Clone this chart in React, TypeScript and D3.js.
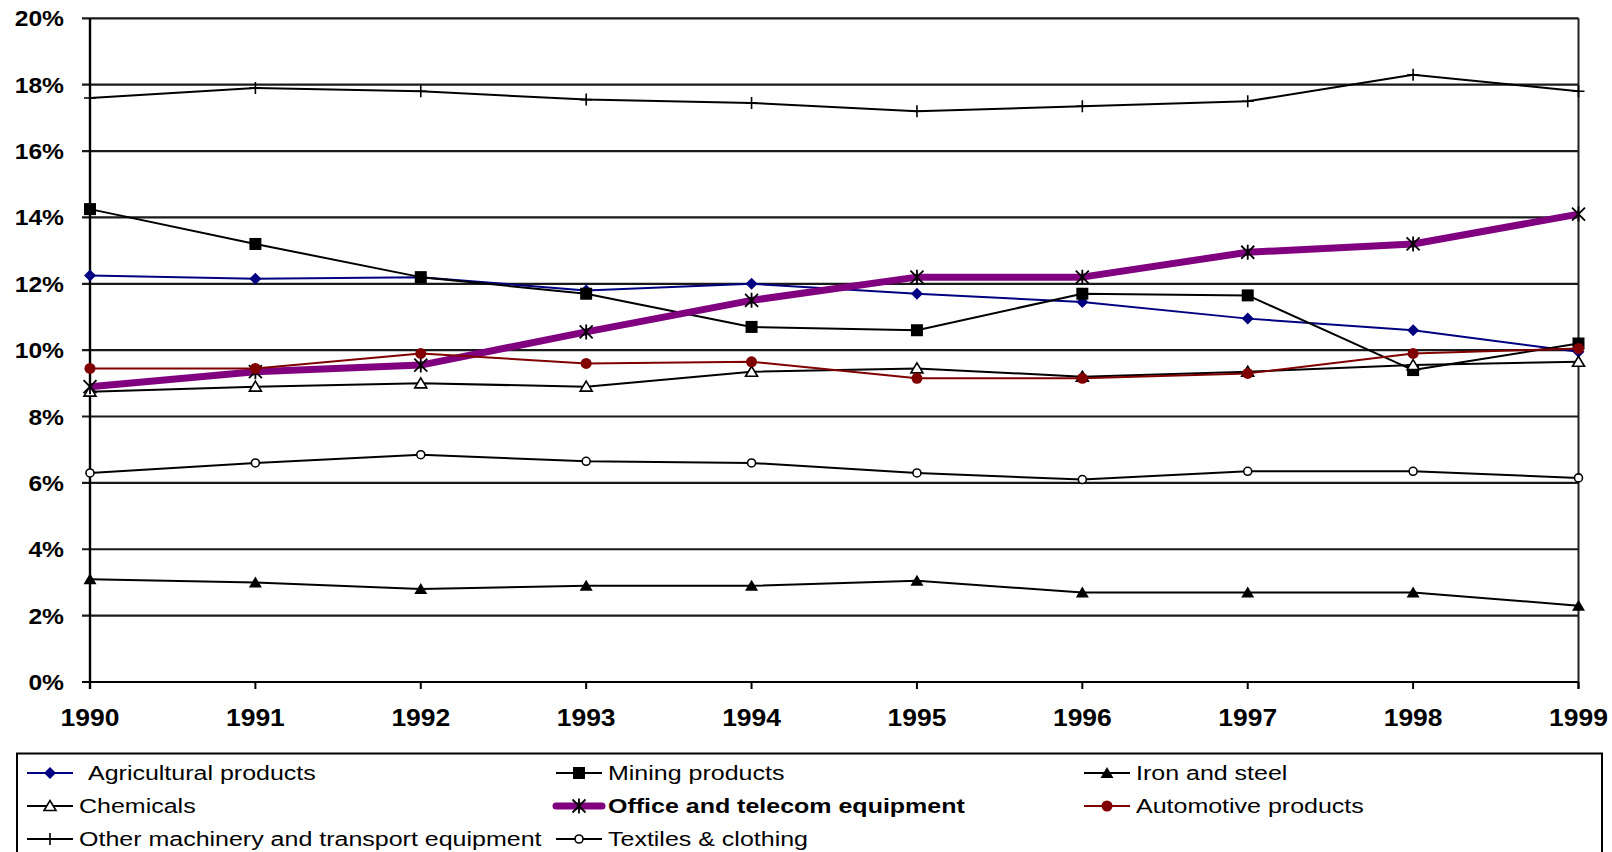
import React, { useEffect } from 'react';
import * as d3 from 'd3';

// ---------- data ----------
const years = [1990, 1991, 1992, 1993, 1994, 1995, 1996, 1997, 1998, 1999];
const yTickValues = [0, 2, 4, 6, 8, 10, 12, 14, 16, 18, 20];

const agricultural = [12.25, 12.15, 12.2, 11.8, 12.0, 11.7, 11.45, 10.95, 10.6, 9.95];
const mining = [14.25, 13.2, 12.2, 11.7, 10.7, 10.6, 11.7, 11.65, 9.4, 10.2];
const ironSteel = [3.1, 3.0, 2.8, 2.9, 2.9, 3.05, 2.7, 2.7, 2.7, 2.3];
const chemicals = [8.75, 8.9, 9.0, 8.9, 9.35, 9.45, 9.2, 9.35, 9.55, 9.65];
const officeTelecom = [8.9, 9.35, 9.55, 10.55, 11.5, 12.2, 12.2, 12.95, 13.2, 14.1];
const automotive = [9.45, 9.45, 9.9, 9.6, 9.65, 9.15, 9.15, 9.3, 9.9, 10.05];
const otherMachinery = [17.6, 17.9, 17.8, 17.55, 17.45, 17.2, 17.35, 17.5, 18.3, 17.8];
const textiles = [6.3, 6.6, 6.85, 6.65, 6.6, 6.3, 6.1, 6.35, 6.35, 6.15];

type Marker = 'diamond' | 'square' | 'triFilled' | 'triOpen' | 'star' | 'dot' | 'plus' | 'ring';

interface Series {
  name: string;
  values: number[];
  color: string;
  width: number;
  marker: Marker;
  markerColor: string;
  bold?: boolean;
}

const series: Series[] = [
  { name: 'Agricultural products', values: agricultural, color: '#000080', width: 2, marker: 'diamond', markerColor: '#000080' },
  { name: 'Mining products', values: mining, color: '#000000', width: 2, marker: 'square', markerColor: '#000000' },
  { name: 'Iron and steel', values: ironSteel, color: '#000000', width: 2, marker: 'triFilled', markerColor: '#000000' },
  { name: 'Chemicals', values: chemicals, color: '#000000', width: 2, marker: 'triOpen', markerColor: '#000000' },
  { name: 'Office and telecom equipment', values: officeTelecom, color: '#800080', width: 7, marker: 'star', markerColor: '#000000', bold: true },
  { name: 'Automotive products', values: automotive, color: '#800000', width: 2, marker: 'dot', markerColor: '#800000' },
  { name: 'Other machinery and transport equipment', values: otherMachinery, color: '#000000', width: 2, marker: 'plus', markerColor: '#000000' },
  { name: 'Textiles & clothing', values: textiles, color: '#000000', width: 2, marker: 'ring', markerColor: '#000000' },
];

// legend layout: [series index, row, col]
const legendOrder = [
  [0, 0, 0], [1, 0, 1], [2, 0, 2],
  [3, 1, 0], [4, 1, 1], [5, 1, 2],
  [6, 2, 0], [7, 2, 1],
];

// ---------- layout ----------
const W = 1612;
const H = 852;
const plot = { left: 90, right: 1578.5, top: 18.3, bottom: 682 };

const x = d3.scaleLinear().domain([years[0], years[years.length - 1]]).range([plot.left, plot.right]);
const y = d3.scaleLinear().domain([0, 20]).range([plot.bottom, plot.top]);

function MarkerShape({ type, cx, cy, color }: { type: Marker; cx: number; cy: number; color: string }) {
  switch (type) {
    case 'diamond':
      return <path d={`M${cx},${cy - 6}L${cx + 6},${cy}L${cx},${cy + 6}L${cx - 6},${cy}Z`} fill={color} />;
    case 'square':
      return <rect x={cx - 6} y={cy - 6} width={12} height={12} fill={color} />;
    case 'triFilled':
      return <path d={`M${cx},${cy - 6}L${cx + 6.5},${cy + 5}L${cx - 6.5},${cy + 5}Z`} fill={color} />;
    case 'triOpen':
      return <path d={`M${cx},${cy - 5.5}L${cx + 6},${cy + 4.5}L${cx - 6},${cy + 4.5}Z`} fill="#fff" stroke={color} strokeWidth={1.6} />;
    case 'star':
      return (
        <path
          d={`M${cx - 6.5},${cy - 6.5}L${cx + 6.5},${cy + 6.5}M${cx + 6.5},${cy - 6.5}L${cx - 6.5},${cy + 6.5}M${cx},${cy - 7.5}L${cx},${cy + 7.5}`}
          stroke={color}
          strokeWidth={1.8}
          fill="none"
        />
      );
    case 'dot':
      return <circle cx={cx} cy={cy} r={5.5} fill={color} />;
    case 'plus':
      return <path d={`M${cx - 6},${cy}L${cx + 6},${cy}M${cx},${cy - 6}L${cx},${cy + 6}`} stroke={color} strokeWidth={1.6} fill="none" />;
    case 'ring':
      return <circle cx={cx} cy={cy} r={4} fill="#fff" stroke={color} strokeWidth={1.6} />;
  }
  return null;
}

export default function App() {
  useEffect(() => {
    document.body.style.margin = '0';
  }, []);

  const line = d3
    .line<number>()
    .x((_, i) => x(years[i]))
    .y((d) => y(d));

  const font = '"Liberation Sans", Arial, sans-serif';

  const colX = [
    { line0: 27, line1: 73, text: 79 },
    { line0: 556, line1: 602, text: 608 },
    { line0: 1084, line1: 1130, text: 1136 },
  ];
  const rowY = [773, 806, 839];

  return (
    <svg width={W} height={H} style={{ position: 'absolute', left: 0, top: 0, display: 'block', background: '#fff' }}>
      <rect x={0} y={0} width={W} height={H} fill="#fff" />
      {/* gridlines */}
      {yTickValues.map((v) => (
        <line key={'g' + v} x1={plot.left - 8} x2={plot.right} y1={y(v)} y2={y(v)} stroke={v === 0 ? '#000' : '#1a1a1a'} strokeWidth={2.2} />
      ))}
      {/* axes frame */}
      <line x1={plot.left} x2={plot.left} y1={plot.top} y2={plot.bottom + 7} stroke="#000" strokeWidth={2.4} />
      <line x1={plot.right} x2={plot.right} y1={plot.top} y2={plot.bottom + 7} stroke="#222" strokeWidth={2} />
      {years.map((yr) => (
        <line key={'t' + yr} x1={x(yr)} x2={x(yr)} y1={plot.bottom} y2={plot.bottom + 7} stroke="#000" strokeWidth={2} />
      ))}
      {/* y labels */}
      {yTickValues.map((v) => (
        <g key={'yl' + v} transform={`translate(64,${y(v) + 8}) scale(1.12,1)`}>
          <text textAnchor="end" fontFamily={font} fontWeight="bold" fontSize={22} fill="#000">
            {v + '%'}
          </text>
        </g>
      ))}
      {/* x labels */}
      {years.map((yr) => (
        <g key={'xl' + yr} transform={`translate(${x(yr)},${726}) scale(1.15,1)`}>
          <text textAnchor="middle" fontFamily={font} fontWeight="bold" fontSize={23} fill="#000">
            {yr}
          </text>
        </g>
      ))}
      {/* series */}
      {series.map((s) => (
        <g key={s.name}>
          <path d={line(s.values) || ''} fill="none" stroke={s.color} strokeWidth={s.width} strokeLinejoin="round" />
          {s.values.map((v, i) => (
            <MarkerShape key={i} type={s.marker} cx={x(years[i])} cy={y(v)} color={s.markerColor} />
          ))}
        </g>
      ))}
      {/* legend */}
      <rect x={17} y={753.5} width={1585} height={120} fill="none" stroke="#000" strokeWidth={2} />
      {legendOrder.map(([si, r, c]) => {
        const s = series[si];
        const col = colX[c];
        const cy = rowY[r];
        const cx = (col.line0 + col.line1) / 2;
        const tx = si === 0 ? col.text + 9 : col.text;
        return (
          <g key={'lg' + si}>
            <line x1={col.line0} x2={col.line1} y1={cy} y2={cy} stroke={s.color} strokeWidth={s.width} strokeLinecap={s.width > 3 ? 'round' : 'butt'} />
            <MarkerShape type={s.marker} cx={cx} cy={cy} color={s.markerColor} />
            <g transform={`translate(${tx},${cy + 7}) scale(1.25,1)`}>
              <text fontFamily={font} fontSize={20} fontWeight={s.bold ? 'bold' : 'normal'} fill="#000">
                {s.name}
              </text>
            </g>
          </g>
        );
      })}
    </svg>
  );
}
